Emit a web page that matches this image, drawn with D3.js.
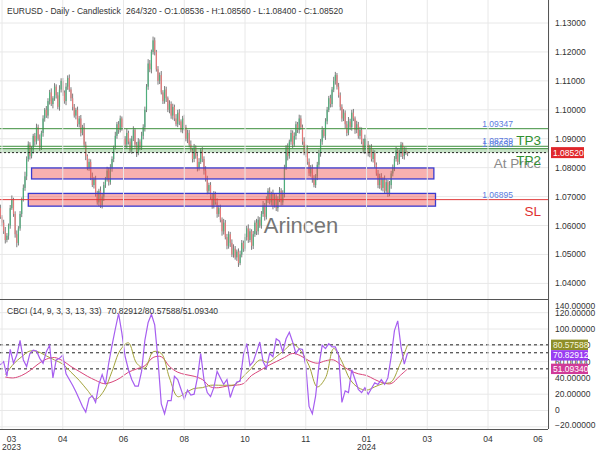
<!DOCTYPE html>
<html><head><meta charset="utf-8">
<script src="https://cdn.jsdelivr.net/npm/d3@7"></script>
<style>body{margin:0;background:#fff}svg{display:block;font-family:"Liberation Sans",Arial,sans-serif}</style>
</head><body><svg id="c" width="600" height="450"></svg>
<script>
// ---- data ----
const firstOpen = 1.0680;
const closes = [
1.0660,1.0630,1.0610,1.0580,1.0550,1.0565,
1.0600,1.0660,1.0690,1.0640,
1.0570,1.0540,1.0590,
1.0640,1.0690,1.0730,1.0770,1.0830,
1.0880,1.0840,1.0860,1.0910,1.0890,1.0940,1.0900,1.0870,1.0920,
1.0970,1.1000,1.0980,1.1030,1.1060,1.1020,1.1040,
1.1080,1.1050,1.1010,1.1070,1.1100,1.1060,1.1030,1.1080,1.1110,1.1070,1.1040,1.1010,
1.0980,1.1000,1.0950,1.0970,1.0920,1.0940,1.0880,
1.0840,1.0800,1.0820,1.0770,1.0740,1.0760,
1.0710,1.0680,1.0720,1.0670,1.0700,1.0740,
1.0760,1.0790,1.0750,1.0800,1.0830,1.0870,
1.0910,1.0950,1.0930,1.0970,1.0940,1.0900,
1.0880,1.0920,1.0890,1.0860,1.0900,1.0930,1.0880,1.0850,1.0890,1.0870,1.0910,1.0940,
1.1000,1.1080,1.1160,1.1140,1.1200,1.1240,1.1200,
1.1140,1.1100,1.1120,1.1060,1.1030,1.1070,1.1040,1.1000,1.1020,1.0980,1.1010,1.0970,
1.0950,1.0990,1.0960,1.0930,1.0970,1.0940,1.0900,1.0920,1.0880,
1.0860,1.0830,1.0870,1.0840,1.0800,1.0820,1.0860,1.0830,1.0790,
1.0760,1.0720,1.0740,1.0700,1.0670,1.0710,1.0680,1.0640,1.0660,
1.0620,1.0580,1.0610,1.0560,1.0530,1.0570,1.0540,1.0500,1.0520,1.0490,1.0510,1.0470,1.0500,
1.0540,1.0520,1.0560,1.0590,1.0550,1.0580,1.0530,1.0570,1.0610,1.0580,1.0620,1.0600,
1.0640,1.0670,1.0630,1.0690,1.0720,1.0680,1.0710,1.0670,1.0700,
1.0660,1.0690,1.0720,1.0680,1.0710,1.0800,
1.0870,1.0840,1.0890,1.0920,1.0880,1.0910,1.0950,1.0930,1.0970,
1.0940,1.0890,1.0850,1.0870,1.0820,1.0780,1.0800,1.0760,1.0740,1.0770,
1.0810,1.0850,1.0890,1.0930,1.0910,1.0960,
1.1000,1.1040,1.1020,1.1070,1.1100,1.1120,1.1080,1.1050,1.1010,
1.0970,1.0990,1.0950,1.0920,1.0960,1.0940,1.0990,1.0970,1.0930,1.0950,1.0910,1.0930,
1.0890,1.0860,1.0900,1.0880,1.0850,1.0870,1.0830,1.0850,1.0810,
1.0780,1.0740,1.0770,1.0730,1.0760,1.0720,1.0750,1.0710,1.0740,1.0780,
1.0800,1.0830,1.0860,1.0820,1.0850,1.0880,1.0840,1.0860,1.08536,1.08520
];
// wick lengths above / below the body, in pips (0.0001)
const wickUp = [
8,12,6,10,15,9,7,11,14,6,
9,13,8,10,7,12,16,9,11,8,
14,7,10,12,9,15,8,11,6,13,
10,9,14,7,12,8,11,15,9,10,
7,13,9,12,8,16,10,7,11,9,
12,8,14,10,6,11,9,13,8,12,
10,7,15,9,11,8,13,10,12,9,
6,14,8,11,10,7,12,9,15,8,
11,10,13,7,9,12,8,14,10,11,
9,15,12,8,13,10,7,11,9,14,
8,12,10,6,13,9,11,8,15,10,
12,7,9,13,8,11,10,14,9,12,
7,10,13,8,11,9,15,12,8,10,
11,9,7,14,10,12,8,13,9,11,
10,8,12,15,9,7,11,13,10,8,
12,9,14,10,7,11,8,13,12,9,
10,15,8,11,9,12,7,14,10,8,
11,13,9,12,10,8,14,7,11,9,
12,10,8,13,11,9,15,10,7,12,
9,11,14,8,10,12,9,13,7,11,
10,8,12,9,14,11,7,13,10,9,
12,8,11,15,9,10,13,7,12,8,
11,9,10,14,8,12,9,11,13,10,
8,12,9,11,7,13,10,8,14,9,
11,10,12,8,13,9,7,11,10,2.4
];
const wickDn = [
10,7,13,9,12,8,14,11,6,10,
12,15,9,8,11,7,10,13,9,12,
8,11,14,10,7,12,9,13,11,8,
10,12,7,15,9,11,8,13,10,12,
9,14,11,8,10,12,7,13,9,11,
12,8,10,14,9,11,13,7,12,10,
8,13,9,11,15,10,8,12,9,14,
11,7,10,13,8,12,9,11,14,10,
9,12,8,11,13,7,10,9,12,15,
8,11,10,14,9,12,8,13,11,7,
10,9,13,8,12,11,14,9,7,10,
13,8,11,12,9,15,10,8,12,11,
9,13,10,7,11,14,8,12,10,9,
12,11,8,13,10,9,15,11,8,12,
10,14,9,11,8,12,13,7,10,11,
9,12,10,8,14,11,9,13,12,8,
11,10,13,9,12,7,11,14,8,10,
12,9,11,10,13,8,15,9,11,12,
8,13,10,12,9,11,7,14,10,9,
11,12,8,10,13,9,12,11,7,14,
10,8,12,11,9,13,10,8,12,11,
9,14,11,8,10,12,9,13,11,10,
12,9,10,13,8,11,14,9,12,10,
8,11,13,9,12,10,7,11,9,13,
10,12,9,11,8,13,10,12,9,12
];
// CBCI main line: one value every 2 bars, starting at bar 1
const cbci = [
56,60,42,75,58,68,86,62,54,70,
74,73,64,58,72,80,40,62,64,68,
45,38,31,23,14,5,-2,15,18,10,
32,44,32,58,80,100,119,95,66,50,
38,30,30,48,86,108,118,105,62,8,
-4,12,12,42,38,26,14,25,19,20,
40,70,38,22,17,28,48,40,32,38,
16,28,35,36,68,82,55,60,72,84,
60,52,70,66,88,85,72,88,96,84,
70,76,75,55,5,-4,18,55,80,76,
82,78,78,68,10,24,22,50,38,26,
22,28,20,27,34,32,38,32,40,66,
98,110,78,57,70.82912
];
// signal lines: one value every 5 bars, starting at bar 4
const cbciSignal = [
44,57,66,73,72,67,62,57,47,37,
25,14,24,48,74,83,58,52,72,70,
40,17,22,27,28,31,31,31,32,42,
52,62,59,66,74,82,73,55,29,40,
76,60,38,28,25,29,33,35,55,80.57588
];
const cbciSlow = [
41,40,43,49,57,63,65,61,54,48,
42,37,33,35,40,47,51,55,65,66,
54,47,44,42,38,29,28,30,31,33,
43,49,55,60,65,70,67,61,58,61,
62,55,49,45,43,38,34,33,42,51.0934
];
const priceTicks = [1.04,1.05,1.06,1.07,1.08,1.09,1.10,1.11,1.12,1.13,1.14];
const cbciTicks = [-20,0,20,40,60,80,100,120,140];
const timeTickIdx = [2,39,76,113,150,187,224,261,298,335];
const timeTickMonth = ["03","04","06","08","10","11","01","03","04","06"];
const timeTickYear = ["2023","","","","","","2024","","",""];
const zoneTop = [1.0799,1.0711];
const zoneBottom = [1.0761,1.0667];
const zoneStart = [20,18];
const zoneEnd = [265,266];
const levelValues = [1.09347,1.08739,1.08658,1.06895];
const levelText = ["1.09347","1.08739","1.08658","1.06895"];
const levelKind = ["tp","tp","tp","sl"];
const bigLabels = ["TP3","","TP2","SL"];
const lastPrice = 1.08520;
const lastValues = [80.57588,70.82912,51.09340];

// ---- layout ----
const svg = d3.select('#c');
const plotR = 548, mainBot = 299, lowTop = 300, lowBot = 429;
const x = d3.scaleLinear().domain([0,335]).range([-1.28,548.8]);
const y = d3.scaleLinear().domain([1.04,1.13]).range([283.4,23]);
const yi = d3.scaleLinear().domain([0,100]).range([410.5,329]);
const defs = svg.append('defs');
defs.append('clipPath').attr('id','cm').append('rect').attr('x',0).attr('y',0).attr('width',plotR).attr('height',mainBot);
defs.append('clipPath').attr('id','cl').append('rect').attr('x',0).attr('y',lowTop).attr('width',plotR).attr('height',lowBot-lowTop);

const gm = svg.append('g').attr('clip-path','url(#cm)');
const gl = svg.append('g').attr('clip-path','url(#cl)');

// grids
gm.selectAll('.hg').data(priceTicks).join('line')
  .attr('x1',0).attr('x2',plotR).attr('y1',d=>y(d)).attr('y2',d=>y(d)).attr('stroke','#e8e8e8');
gl.selectAll('.hg').data(cbciTicks).join('line')
  .attr('x1',0).attr('x2',plotR).attr('y1',d=>yi(d)).attr('y2',d=>yi(d)).attr('stroke','#e8e8e8');
svg.append('g').selectAll('line').data(timeTickIdx).join('line')
  .attr('x1',d=>x(d)).attr('x2',d=>x(d)).attr('y1',0).attr('y2',lowBot).attr('stroke','#e8e8e8');

// candles
const bars = closes.map((c,i)=>{
  const o = i ? closes[i-1] : firstOpen;
  return {i,o,c,h:Math.max(o,c)+wickUp[i]/1e4,l:Math.min(o,c)-wickDn[i]/1e4};
});
const cg = gm.append('g');
cg.selectAll('line').data(bars).join('line')
  .attr('x1',d=>x(d.i)).attr('x2',d=>x(d.i)).attr('y1',d=>y(d.h)).attr('y2',d=>y(d.l))
  .attr('stroke','#5a5a5a').attr('stroke-width',0.8);
cg.selectAll('rect').data(bars).join('rect')
  .attr('x',d=>x(d.i)-0.6).attr('width',1.2)
  .attr('y',d=>y(Math.max(d.o,d.c)))
  .attr('height',d=>Math.max(1,Math.abs(y(d.o)-y(d.c))))
  .attr('fill',d=>d.c>=d.o?'#4fae7c':'#e57a7a');

// zones
gm.selectAll('.zone').data(zoneTop).join('rect')
  .attr('x',(d,i)=>x(zoneStart[i])).attr('width',(d,i)=>x(zoneEnd[i])-x(zoneStart[i]))
  .attr('y',d=>y(d)).attr('height',(d,i)=>y(zoneBottom[i])-y(d))
  .attr('fill','rgba(240,80,80,0.45)').attr('stroke','#3b3bd0').attr('stroke-width',1.3);

// entry band
gm.append('rect').attr('x',0).attr('width',plotR)
  .attr('y',y(levelValues[2])).attr('height',y(lastPrice)-y(levelValues[2]))
  .attr('fill','rgba(90,170,90,0.35)');

// level lines
gm.selectAll('.lvl').data(levelValues).join('line')
  .attr('x1',0).attr('x2',plotR).attr('y1',d=>y(d)).attr('y2',d=>y(d))
  .attr('stroke',(d,i)=>levelKind[i]==='sl'?'#e03a3a':'#3d8f3d').attr('stroke-width',1);
gm.append('line').attr('x1',0).attr('x2',plotR).attr('y1',y(lastPrice)).attr('y2',y(lastPrice))
  .attr('stroke','#222').attr('stroke-dasharray','2,2');

// small value labels
gm.selectAll('.lvt').data(levelValues).join('text')
  .attr('x',513).attr('y',d=>y(d)-2).attr('text-anchor','end')
  .attr('font-size',8.5).attr('fill','#5a7be0').text((d,i)=>levelText[i]);

// big labels
gm.append('text').attr('x',541).attr('y',y(lastPrice)+15.5).attr('text-anchor','end')
  .attr('font-size',13.5).attr('fill','#8a8a8a').text('At Price');
gm.selectAll('.big').data(levelValues).join('text')
  .attr('x',541).attr('y',d=>y(d)+16).attr('text-anchor','end').attr('font-size',13.5)
  .attr('fill',(d,i)=>levelKind[i]==='sl'?'#e03030':'#2f8f2f').text((d,i)=>bigLabels[i]);

// watermark
gm.append('text').attr('x',301).attr('y',233).attr('text-anchor','middle')
  .attr('font-size',22).attr('fill','#555').attr('opacity',0.8).text('Arincen');

// CBCI panel
const dashed = [80.57588,70.82912,51.09340];
gl.selectAll('.dl').data(dashed).join('line')
  .attr('x1',0).attr('x2',plotR).attr('y1',d=>yi(d)).attr('y2',d=>yi(d))
  .attr('stroke','#222').attr('stroke-dasharray','3,3');
const lineSlow = d3.line().x((d,i)=>x(4+5*i)).y(d=>yi(d)).curve(d3.curveCatmullRom);
const lineMain = d3.line().x((d,i)=>x(1+2*i)).y(d=>yi(d)).curve(d3.curveLinear);
gl.append('path').attr('d',lineSlow(cbciSlow)).attr('fill','none').attr('stroke','#d9457a').attr('stroke-width',1);
gl.append('path').attr('d',lineSlow(cbciSignal)).attr('fill','none').attr('stroke','#a3a33a').attr('stroke-width',1);
gl.append('path').attr('d',lineMain(cbci)).attr('fill','none').attr('stroke','#a65ef0').attr('stroke-width',1.2);

// frame
svg.append('line').attr('x1',plotR+0.5).attr('x2',plotR+0.5).attr('y1',0).attr('y2',lowBot).attr('stroke','#555');
svg.append('line').attr('x1',0).attr('x2',plotR).attr('y1',mainBot+0.5).attr('y2',mainBot+0.5).attr('stroke','#555');
svg.append('line').attr('x1',0).attr('x2',plotR).attr('y1',lowBot+0.5).attr('y2',lowBot+0.5).attr('stroke','#555');

// price axis labels
const fmt = d3.format('.5f');
svg.append('g').selectAll('text').data(priceTicks).join('text')
  .attr('x',555).attr('y',d=>y(d)).attr('dy','0.35em').attr('font-size',8.5).attr('fill','#333').text(d=>fmt(d));
svg.append('rect').attr('x',551).attr('y',y(lastPrice)-5.5).attr('width',33).attr('height',11).attr('fill','#e0262b');
svg.append('text').attr('x',553).attr('y',y(lastPrice)).attr('dy','0.35em').attr('font-size',8.5).attr('fill','#fff').text(fmt(lastPrice));

// cbci axis labels
svg.append('g').selectAll('text').data(cbciTicks).join('text')
  .attr('x',555).attr('y',d=>Math.min(425.5,Math.max(306,yi(d)))).attr('dy','0.35em')
  .attr('font-size',8.5).attr('fill','#333').text(d=>d===0?'0':fmt(d));
const boxColors = ['#8e8e28','#9a3cf2','#d03a98'];
const boxText = ['#f4f4d8','#ffffff','#ffffff'];
let prev = -1e9;
const boxY = lastValues.map(v=>{let c = yi(v); if (c < prev+10.5) c = prev+10.5; prev = c; return c;});
svg.append('g').selectAll('rect').data(lastValues).join('rect')
  .attr('x',551).attr('y',(d,i)=>boxY[i]-5.2).attr('width',37).attr('height',10.4).attr('fill',(d,i)=>boxColors[i]);
svg.append('g').selectAll('text').data(lastValues).join('text')
  .attr('x',553).attr('y',(d,i)=>boxY[i]).attr('dy','0.35em').attr('font-size',8.5)
  .attr('fill',(d,i)=>boxText[i]).text(d=>fmt(d));

// time axis
const tg = svg.append('g');
tg.selectAll('.m').data(timeTickIdx).join('text')
  .attr('x',d=>Math.min(538,Math.max(11.5,x(d)))).attr('y',441.5).attr('text-anchor','middle')
  .attr('font-size',8.5).attr('fill','#333').text((d,i)=>timeTickMonth[i]);
tg.selectAll('.yr').data(timeTickIdx).join('text')
  .attr('x',d=>Math.min(538,Math.max(11.5,x(d)))).attr('y',449.5).attr('text-anchor','middle')
  .attr('font-size',8.5).attr('fill','#333').text((d,i)=>timeTickYear[i]);

// titles
svg.append('text').attr('x',7).attr('y',13.5).attr('font-size',8.5).attr('fill','#333').text('EURUSD - Daily - Candlestick');
svg.append('text').attr('x',126).attr('y',13.5).attr('font-size',8.5).attr('fill','#333')
  .text(`264/320 - O:1.08536 - H:1.08560 - L:1.08400 - C:${fmt(lastPrice)}`);
svg.append('text').attr('x',7).attr('y',314).attr('font-size',8.5).attr('fill','#333').text('CBCI (14, 9, 3, 3, 13, 33)');
svg.append('text').attr('x',107).attr('y',314).attr('font-size',8.5).attr('fill','#333')
  .text(`${fmt(lastValues[1])}/${fmt(lastValues[0])}/${fmt(lastValues[2])}`);
</script></body></html>
